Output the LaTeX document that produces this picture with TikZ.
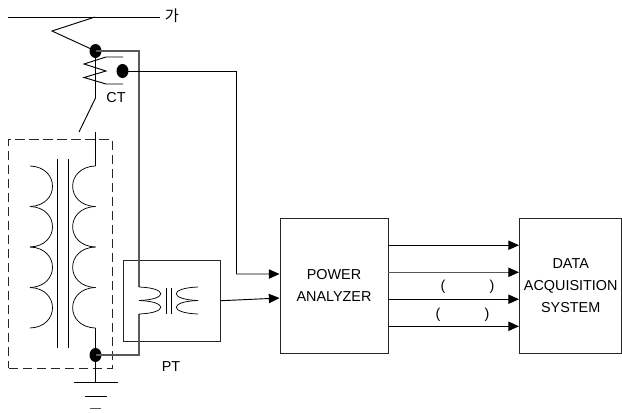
\documentclass[tikz,border=0pt]{standalone}
\usepackage{fontspec}
\setmainfont{Liberation Sans}
\newfontfamily\krfont{Noto Sans CJK KR}
\usetikzlibrary{positioning, arrows.meta, shapes.geometric}

\begin{document}
\begin{tikzpicture}[
x=0.75pt, y=-0.75pt,
>={Triangle[length=8pt, width=7pt, black]},
wire/.style={line width=0.7pt},
thinwire/.style={line width=0.55pt},
graywire/.style={line width=0.8pt, draw=black!65},
block/.style={rectangle, draw=black!85, line width=0.7pt, minimum height=100.9pt, align=center, font=\fontsize{10.8}{16.5}\selectfont},
dot/.style={ellipse, fill=black, inner sep=0pt, minimum width=9pt, minimum height=10.5pt},
label/.style={inner sep=0pt, font=\fontsize{10.8}{13}\selectfont}
]
\useasboundingbox (0,0) rectangle (622,412);
%Nodes
\node[block, minimum width=81pt]   (analyzer)  at (334,285.75)      {POWER\\ANALYZER};
\node[block, minimum width=73.9pt] (acq)       [right=97.9pt of analyzer]  {DATA\\ACQUISITION\\SYSTEM};
\node[block, minimum width=72.75pt, minimum height=60.75pt] (ptbox) at (171.5,300.75) {};
\node[rectangle, draw=black!85, line width=0.7pt, dash pattern=on 7pt off 3.5pt, minimum width=77.6pt, minimum height=172pt] (xfmr) at (60.25,253.75) {};

\node[dot] (dotline) at (95.5,51)  {};
\node[dot] (dotct)   at (122.5,71) {};
\node[dot] (dotgnd)  at (95.5,355) {};

\node[label] (ga)  at (172,16)  {\fontsize{11.5}{13}\selectfont\krfont 가};
\node[label] (ct)  at (116,98)  {CT};
\node[label] (pt)  at (171,367) {PT};
\node[label] (p1)  at (443,287) {(};
\node[label] (p2)  at (492,287) {)};
\node[label] (p3)  at (438,315) {(};
\node[label] (p4)  at (487,315) {)};

\coordinate (lineL)  at (8,17);
\coordinate (lineR)  at (160,17);
\coordinate (ctkink) at (95.5,98);
\coordinate (ctend)  at (79,132);
\coordinate (xtop)   at (95.5,132);
\coordinate (xcoil)  at (95.5,166);
\coordinate (xcoilB) at (95.5,328);
\coordinate (gnd)    at (95.5,382);
\coordinate (corner) at (139,51);
\coordinate (primT)  at (139,287);
\coordinate (primB)  at (139,314);
\coordinate (cornerB) at (139,355);
\coordinate (corner2) at (236,71);
\coordinate (corner3) at (236,274);

%Lines
\draw[wire] (lineL) -- (lineR);
\draw[wire] (95,17) -- (52,31) -- (dotline.center);
\draw[wire] (dotline.center) -- (ctkink) -- (ctend);
\draw[wire] (123,57) -- (106,57) -- (84,64) -- (106,71) -- (84,77.5) -- (106,84) -- (123,84);

\draw[graywire] (dotline.center) -- (corner) -- (primT);
\draw[graywire] (primB) -- (cornerB) -- (dotgnd.center);
\draw[wire] (dotct.center) -- (corner2) -- (corner3);
\draw[->, wire] (corner3) -- ([yshift=8.8pt]analyzer.west);
\draw[->, wire] (ptbox.east) -- ([yshift=-9.2pt]analyzer.west);

\draw[wire] (xtop) -- (xcoil);
\draw[wire] (xcoilB) -- (dotgnd.center) -- (gnd);

%Transformer
\foreach \y in {166,206.5,247,287.5} {
  \draw[thinwire] (95.5,\y) .. controls (65,\y+1) and (65,\y+39.5) .. (95.5,\y+40.5);
  \draw[thinwire] (30,\y) .. controls (60,\y+1) and (60,\y+39.5) .. (30,\y+40.5);
}
\draw[thinwire] (57.5,159) -- (57.5,348);
\draw[thinwire] (68,159) -- (68,348);

%PT coils
\foreach \y in {287,300.5} {
  \draw[thinwire] (139,\y) .. controls (168,\y+1) and (168,\y+12.5) .. (139,\y+13.5);
  \draw[thinwire] (198,\y) .. controls (169,\y+1) and (169,\y+12.5) .. (198,\y+13.5);
}
\draw[thinwire] (166,288) -- (166,314);
\draw[thinwire] (171.5,288) -- (171.5,314);

%Ground
\draw[wire] (74,382) -- (118,382);
\draw[wire] (84.5,396) -- (106.5,396);
\draw[graywire] (90,408.5) -- (101,408.5);

%Outputs
\draw[->, wire] ([yshift=30.4pt]analyzer.east) -- ([yshift=30.4pt]acq.west);
\draw[->, graywire] ([yshift=10.1pt]analyzer.east) -- ([yshift=10.1pt]acq.west);
\draw[->, wire] ([yshift=-10.1pt]analyzer.east) -- ([yshift=-10.1pt]acq.west);
\draw[->, wire] ([yshift=-30.4pt]analyzer.east) -- ([yshift=-30.4pt]acq.west);
\end{tikzpicture}
\end{document}
